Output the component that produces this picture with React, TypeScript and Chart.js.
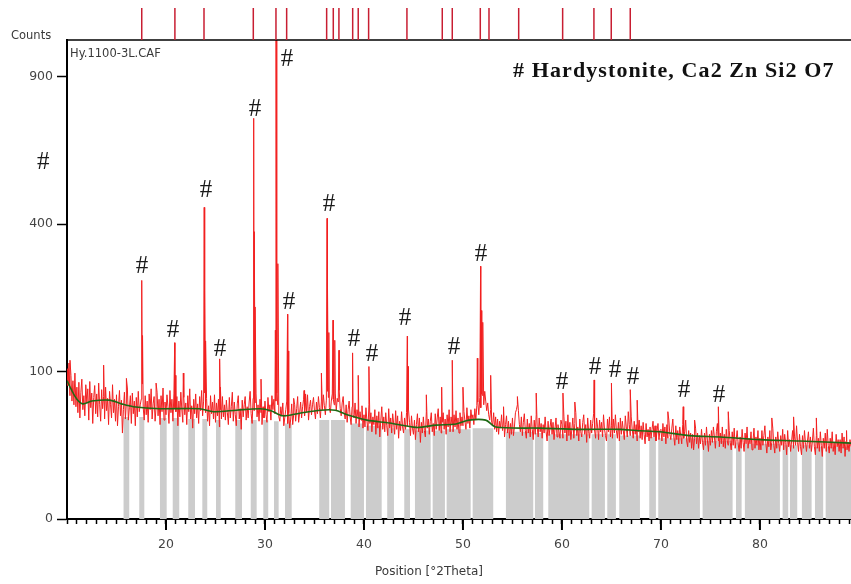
import React, { useEffect, useRef } from 'react';
import { Chart, registerables } from 'chart.js';

Chart.register(...registerables);

// ---- axis range (°2Theta) ----
const X_MIN = 10;
const X_MAX = 89.2;
const Y_MAX_COUNTS = 1056;

// ---- measured scan: counts every 0.1° starting at 10.0° ----
const SCAN_START = 10.0;
const SCAN_STEP = 0.1;
const counts10to20 = [
  104, 82, 112, 70, 95, 64, 88, 60, 98, 58,
  80, 52, 86, 47, 74, 90, 55, 70, 49, 83,
  62, 78, 45, 87, 57, 73, 42, 68, 82, 51,
  72, 48, 85, 60, 44, 77, 56, 69, 46, 80,
  54, 67, 41, 75, 60, 47, 83, 52, 66, 44,
  71, 40, 58, 76, 49, 65, 34, 55, 74, 46,
  63, 79, 45, 57, 70, 42, 73, 51, 64, 40,
  68, 48, 75, 53, 60, 66, 84, 57, 45, 70,
  50, 64, 43, 72, 55, 78, 46, 61, 69, 44,
  58, 74, 49, 66, 41, 70, 53, 79, 45, 63,
];
const counts20to30 = [
  50, 71, 58, 42, 76, 52, 66, 44, 72, 57,
  53, 69, 40, 64, 48, 74, 55, 43, 68, 50,
  62, 41, 70, 53, 78, 46, 59, 38, 66, 51,
  72, 47, 61, 42, 69, 54, 76, 49, 64, 73,
  52, 67, 44, 59, 40, 70, 51, 63, 46, 71,
  43, 62, 49, 66, 39, 55, 46, 69, 48, 60,
  45, 65, 52, 41, 68, 47, 58, 74, 44, 63,
  50, 40, 61, 70, 46, 56, 37, 65, 48, 60,
  69, 45, 58, 47, 63, 75, 51, 42, 67, 54,
  62, 72, 48, 60, 44, 66, 52, 41, 58, 47,
];
const counts30to40 = [
  64, 50, 43, 68, 53, 60, 45, 70, 55, 66,
  51, 64, 73, 60, 48, 44, 58, 49, 62, 40,
  47, 55, 64, 42, 52, 38, 46, 61, 41, 50,
  60, 44, 56, 69, 43, 52, 63, 47, 58, 66,
  49, 62, 53, 71, 45, 58, 65, 50, 60, 68,
  54, 46, 63, 51, 69, 57, 47, 64, 55, 71,
  59, 50, 65, 75, 68, 57, 52, 64, 72, 66,
  60, 73, 54, 67, 63, 76, 56, 49, 62, 69,
  52, 46, 60, 43, 55, 64, 48, 41, 58, 50,
  47, 62, 42, 55, 48, 39, 53, 45, 59, 38,
];
const counts40to50 = [
  50, 39, 57, 44, 36, 60, 42, 52, 35, 48,
  41, 55, 33, 49, 38, 53, 31, 45, 58, 37,
  48, 35, 52, 40, 32, 56, 38, 47, 34, 51,
  42, 33, 54, 37, 49, 30, 44, 36, 53, 39,
  34, 47, 37, 52, 40, 55, 43, 32, 49, 38,
  33, 45, 29, 41, 51, 35, 47, 27, 43, 34,
  48, 36, 31, 53, 38, 46, 33, 44, 52, 35,
  42, 32, 51, 37, 47, 56, 36, 48, 34, 43,
  52, 37, 46, 33, 50, 39, 55, 35, 48, 41,
  35, 50, 39, 54, 37, 47, 34, 52, 40, 48,
];
const counts50to60 = [
  40, 53, 44, 37, 57, 42, 49, 38, 55, 46,
  50, 41, 56, 45, 59, 63, 50, 68, 57, 72,
  70, 60, 75, 64, 54, 62, 50, 45, 55, 43,
  41, 52, 37, 48, 35, 46, 33, 44, 38, 50,
  36, 45, 31, 41, 49, 34, 44, 30, 42, 33,
  47, 32, 39, 52, 55, 60, 54, 41, 35, 48,
  32, 43, 51, 36, 30, 46, 34, 42, 31, 49,
  37, 29, 45, 33, 50, 39, 31, 47, 35, 42,
  30, 41, 34, 48, 35, 28, 44, 32, 39, 46,
  33, 43, 29, 38, 47, 31, 41, 35, 30, 45,
];
const counts60to70 = [
  41, 30, 48, 34, 44, 28, 50, 32, 43, 29,
  37, 47, 30, 42, 52, 32, 39, 28, 46, 35,
  31, 43, 50, 33, 41, 27, 47, 35, 30, 45,
  34, 42, 51, 36, 30, 47, 39, 29, 45, 35,
  43, 31, 50, 37, 32, 28, 46, 35, 48, 31,
  40, 30, 46, 34, 50, 36, 30, 43, 28, 47,
  33, 44, 36, 29, 49, 39, 31, 53, 41, 32,
  48, 37, 30, 44, 33, 41, 28, 35, 45, 30,
  40, 29, 43, 33, 26, 42, 31, 37, 28, 39,
  30, 37, 44, 31, 40, 28, 35, 42, 29, 36,
];
const counts70to80 = [
  37, 28, 42, 31, 39, 26, 41, 30, 45, 33,
  29, 38, 46, 31, 25, 40, 29, 36, 26, 39,
  32, 26, 41, 30, 35, 45, 28, 24, 36, 27,
  34, 23, 33, 22, 30, 38, 26, 34, 23, 32,
  26, 37, 27, 22, 34, 25, 39, 28, 21, 33,
  25, 36, 27, 39, 31, 23, 35, 42, 28, 24,
  34, 26, 39, 24, 33, 23, 37, 28, 25, 36,
  27, 22, 35, 25, 38, 23, 29, 36, 26, 21,
  31, 23, 37, 27, 21, 34, 26, 39, 23, 30,
  26, 35, 22, 28, 38, 23, 31, 25, 36, 22,
];
const counts80to89 = [
  30, 22, 36, 25, 32, 40, 26, 20, 31, 24,
  36, 22, 27, 38, 25, 20, 31, 23, 35, 26,
  21, 32, 25, 37, 22, 33, 27, 19, 36, 24,
  29, 21, 28, 36, 23, 31, 25, 40, 27, 21,
  33, 24, 19, 32, 23, 36, 27, 21, 28, 35,
  23, 31, 21, 28, 38, 24, 19, 32, 23, 30,
  21, 35, 25, 18, 30, 23, 34, 21, 37, 25,
  20, 30, 23, 35, 21, 27, 19, 33, 24, 29,
  21, 29, 20, 34, 23, 31, 18, 28, 22, 27,
  21, 29, 24,
];

// ---- peak maxima of the scan: [2Theta, counts] ----
const peakPoints: [number, number][] = [
  [10.3, 116], [13.7, 109], [16.0, 91], [17.55, 262], [17.63, 155], [19.0, 85],
  [20.88, 143], [20.95, 95], [21.75, 98], [23.86, 447], [23.92, 240], [24.0, 146],
  [25.42, 118], [25.5, 80], [28.86, 739], [28.92, 380], [29.0, 207], [29.6, 90],
  [31.05, 164], [31.12, 1100], [31.18, 900], [31.3, 300], [32.28, 193], [32.35, 130],
  [32.9, 67], [33.95, 76], [34.1, 72], [35.7, 98], [36.27, 416], [36.33, 250],
  [36.45, 160], [36.88, 182], [37.05, 147], [37.48, 131], [38.85, 127], [39.42, 95],
  [40.5, 107], [44.38, 154], [44.45, 107], [46.3, 71], [47.85, 80], [48.92, 116],
  [50.0, 80], [51.45, 119], [51.78, 294], [51.84, 200], [52.0, 178], [52.8, 95],
  [54.1, 58], [55.5, 69], [57.4, 73], [60.1, 73], [61.3, 63], [63.25, 89],
  [65.0, 85], [66.9, 77], [67.6, 65], [70.7, 53], [72.25, 58], [73.4, 45],
  [75.8, 58], [76.8, 53], [81.2, 47], [83.4, 48], [85.7, 47], [88.75, 36],
];

// ---- fitted background: [2Theta, counts] ----
const backgroundPoints: [number, number][] = [
  [10.0, 88], [10.4, 78], [11.0, 66], [11.6, 61], [12.5, 64], [14.3, 65], [15.5, 61],
  [16.7, 58], [19.4, 56], [23.4, 56], [24.8, 53], [27.1, 54.5], [29.5, 56], [30.6, 54],
  [31.8, 49], [33.5, 51.5], [35.6, 54.5], [37.1, 54.5], [38.3, 50], [40.3, 45],
  [42.6, 42.4], [45.3, 38.6], [47.3, 40.6], [49.3, 41.5], [50.6, 45], [52.3, 45],
  [53.3, 39], [57.8, 38], [61.8, 37], [65.9, 37], [67.5, 36], [69.9, 35], [72.9, 32],
  [76.0, 31], [80.0, 29], [84.0, 28], [89.2, 26.5],
];

// ---- grey bands: [from 2Theta, to 2Theta, top counts] ----
const greyBands: [number, number, number][] = [
  [15.69, 16.29, 48], [17.30, 17.81, 48], [19.39, 20.07, 47], [20.68, 21.34, 47],
  [22.25, 22.93, 46], [23.67, 24.17, 46], [25.05, 25.53, 45], [27.0, 27.68, 45],
  [28.56, 29.16, 45], [29.83, 30.33, 45], [30.91, 31.38, 44], [32.02, 32.70, 42],
  [35.48, 36.49, 45], [36.67, 38.08, 45], [38.66, 40.0, 42], [40.20, 41.79, 40],
  [42.35, 43.03, 38], [44.07, 44.65, 37], [45.15, 46.74, 36], [46.94, 48.18, 36],
  [48.35, 50.78, 37], [50.98, 53.06, 38], [54.34, 57.10, 35], [57.27, 58.11, 34],
  [58.62, 62.76, 33], [63.0, 64.34, 33], [64.58, 65.45, 33], [65.79, 67.88, 32],
  [68.82, 69.49, 31], [69.73, 73.94, 30], [74.21, 77.24, 28], [77.58, 78.15, 27],
  [78.48, 82.02, 26], [82.29, 82.86, 25], [83.03, 83.77, 25], [84.24, 85.22, 25],
  [85.56, 86.39, 24], [86.64, 89.2, 24],
];

// ---- reference pattern lines (Hardystonite), °2Theta ----
const refLines = [
  17.55, 20.9, 23.84, 28.82, 31.11, 32.19, 36.23, 36.9, 37.47, 38.86, 39.42,
  40.47, 44.34, 47.91, 48.92, 51.75, 52.63, 55.63, 60.07, 63.23, 64.98, 66.9,
];

// ---- '#' markers: [2Theta, counts] of the glyph centre ----
const hashMarks: [number, number][] = [
  [7.6, 592], [17.58, 299], [20.7, 168], [24.04, 504], [25.45, 136], [28.99, 780],
  [32.22, 981], [32.42, 220], [36.46, 462], [38.99, 151], [40.81, 128], [44.14, 188],
  [49.09, 139], [51.82, 328], [60.0, 89], [63.33, 109], [65.35, 105], [67.17, 95],
  [72.32, 78], [75.86, 73],
];

const yTickCounts = [0, 100, 400, 900];
const xMajorTicks = [20, 30, 40, 50, 60, 70, 80];
const xMinorTicks = Array.from({ length: 80 }, (_, i) => 10 + i);

const sampleName = 'Hy.1100-3L.CAF';
const phaseTitle = '# Hardystonite, Ca2 Zn Si2 O7';
const yTitle = 'Counts';
const xTitle = 'Position [°2Theta]';

const SANS = '"DejaVu Sans", sans-serif';
const SERIF = '"Liberation Serif", "Times New Roman", serif';

function buildScan() {
  const all = [
    ...counts10to20, ...counts20to30, ...counts30to40, ...counts40to50,
    ...counts50to60, ...counts60to70, ...counts70to80, ...counts80to89,
  ];
  const pts = all.map((c, i) => ({ x: Math.round((SCAN_START + i * SCAN_STEP) * 100) / 100, y: Math.sqrt(c) }));
  peakPoints.forEach(([x, c]) => pts.push({ x, y: Math.sqrt(c) }));
  pts.sort((a, b) => a.x - b.x);
  return pts;
}

const overlayPlugin = {
  id: 'xrdOverlay',
  afterDraw(chart: any) {
    const { ctx, chartArea, scales } = chart;
    const xs = scales.x;
    const ys = scales.y;
    ctx.save();
    // top frame line
    ctx.strokeStyle = '#000';
    ctx.lineWidth = 1.5;
    ctx.beginPath();
    ctx.moveTo(chartArea.left, chartArea.top);
    ctx.lineTo(chartArea.right, chartArea.top);
    ctx.stroke();
    // long major ticks
    ctx.lineWidth = 2;
    xMajorTicks.forEach((v) => {
      const px = xs.getPixelForValue(v);
      ctx.beginPath();
      ctx.moveTo(px, chartArea.bottom);
      ctx.lineTo(px, chartArea.bottom + 11);
      ctx.stroke();
    });
    // reference lines above the plot
    ctx.strokeStyle = 'rgb(200,30,50)';
    ctx.lineWidth = 1.5;
    refLines.forEach((v) => {
      const px = xs.getPixelForValue(v);
      ctx.beginPath();
      ctx.moveTo(px, chartArea.top - 32);
      ctx.lineTo(px, chartArea.top);
      ctx.stroke();
    });
    // texts
    ctx.fillStyle = '#3a3a3a';
    ctx.font = `11.5px ${SANS}`;
    ctx.textAlign = 'left';
    ctx.textBaseline = 'alphabetic';
    ctx.fillText(yTitle, 11, chartArea.top - 1);
    ctx.fillText(sampleName, chartArea.left + 3, chartArea.top + 17);
    ctx.textAlign = 'center';
    ctx.textBaseline = 'middle';
    ctx.font = `12px ${SANS}`;
    ctx.fillText(xTitle, 429, chartArea.bottom + 53);
    // phase title
    ctx.fillStyle = '#111';
    ctx.font = `bold 22px ${SERIF}`;
    ctx.textAlign = 'left';
    ctx.textBaseline = 'middle';
    (ctx as any).letterSpacing = '1.1px';
    ctx.fillText(phaseTitle, 513, chartArea.top + 31);
    (ctx as any).letterSpacing = '0px';
    // hash markers
    ctx.fillStyle = '#1a1a1a';
    ctx.font = `25px ${SERIF}`;
    ctx.textAlign = 'center';
    ctx.textBaseline = 'middle';
    hashMarks.forEach(([x, c]) => {
      ctx.fillText('#', xs.getPixelForValue(x), ys.getPixelForValue(Math.sqrt(c)) + 2);
    });
    ctx.restore();
  },
};

export default function App() {
  const ref = useRef<HTMLCanvasElement | null>(null);
  useEffect(() => {
    document.body.style.margin = '0';
    const canvas = ref.current;
    if (!canvas) return;
    const scan = buildScan();
    const bg = backgroundPoints.map(([x, c]) => ({ x, y: Math.sqrt(c) }));
    const grey = greyBands.flatMap(([a, b, c]) => [
      { x: a, y: 0 }, { x: a, y: Math.sqrt(c) }, { x: b, y: Math.sqrt(c) }, { x: b, y: 0 },
    ]);
    const chart = new Chart(canvas, {
      type: 'line',
      data: {
        datasets: [
          {
            label: 'grey',
            data: grey,
            borderWidth: 0,
            borderColor: 'rgba(0,0,0,0)',
            backgroundColor: 'rgb(204,204,204)',
            fill: 'origin',
            pointRadius: 0,
            tension: 0,
            order: 3,
          },
          {
            label: 'scan',
            data: scan,
            borderColor: 'rgb(242,32,32)',
            borderWidth: 1,
            pointRadius: 0,
            fill: false,
            tension: 0,
            order: 2,
          },
          {
            label: 'background',
            data: bg,
            borderColor: 'rgb(30,105,20)',
            borderWidth: 1.6,
            pointRadius: 0,
            fill: false,
            tension: 0.3,
            order: 1,
          },
        ],
      },
      options: {
        animation: false,
        responsive: false,
        events: [],
        layout: { padding: { top: 40, left: 0, right: 0, bottom: 0 } },
        plugins: { legend: { display: false }, tooltip: { enabled: false } },
        scales: {
          x: {
            type: 'linear',
            min: X_MIN,
            max: X_MAX,
            afterBuildTicks: (s: any) => { s.ticks = xMinorTicks.map((v) => ({ value: v })); },
            afterFit: (s: any) => { s.height = 65; s.paddingRight = 0; s.paddingLeft = 0; },
            ticks: {
              autoSkip: false,
              maxRotation: 0,
              padding: 13,
              color: '#444',
              font: { family: SANS, size: 12.5 },
              callback: (v: any) => (xMajorTicks.includes(Number(v)) ? String(v) : ''),
            },
            grid: { drawOnChartArea: false, drawTicks: true, tickLength: 5, tickWidth: 1.5, tickColor: '#000' },
            border: { display: true, color: '#000', width: 2 },
          },
          y: {
            type: 'linear',
            min: 0,
            max: Math.sqrt(Y_MAX_COUNTS),
            afterBuildTicks: (s: any) => { s.ticks = yTickCounts.map((c) => ({ value: Math.sqrt(c) })); },
            afterFit: (s: any) => { s.width = 67; s.paddingTop = 0; s.paddingBottom = 0; },
            ticks: {
              padding: 4,
              color: '#444',
              font: { family: SANS, size: 12.5 },
              callback: (v: any) => String(Math.round(Number(v) * Number(v))),
            },
            grid: { drawOnChartArea: false, drawTicks: true, tickLength: 10, tickWidth: 1.5, tickColor: '#000' },
            border: { display: true, color: '#000', width: 2 },
          },
        },
      },
      plugins: [overlayPlugin],
    });
    return () => chart.destroy();
  }, []);
  return (
    <div style={{ position: 'fixed', left: 0, top: 0, width: 851, height: 584, background: '#fff' }}>
      <canvas ref={ref} width={851} height={584} style={{ width: 851, height: 584, display: 'block' }} />
    </div>
  );
}
